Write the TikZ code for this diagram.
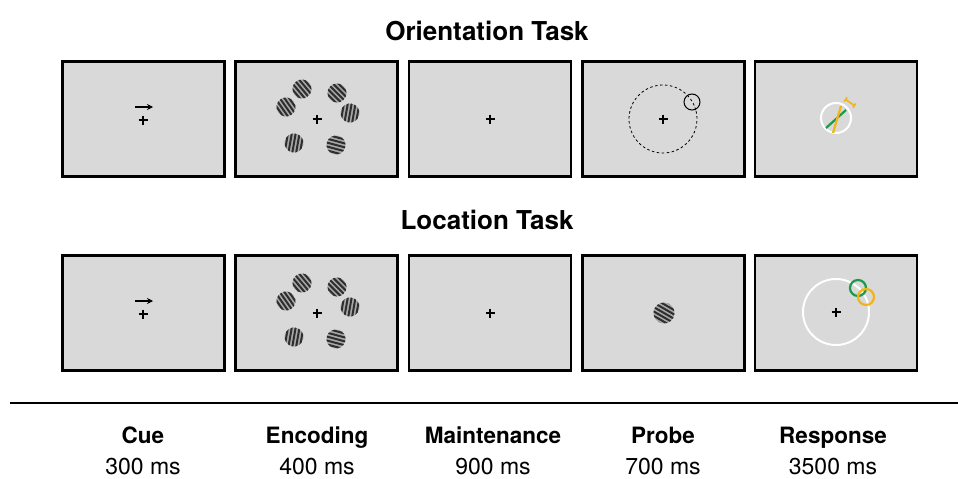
\documentclass[tikz,border=0pt]{standalone}
\usepackage{fontspec}
\setmainfont{TeX Gyre Heros}
\usetikzlibrary{arrows.meta}
\definecolor{panelgray}{HTML}{D9D9D9}
\definecolor{rgreen}{HTML}{1A9A4A}
\definecolor{rorange}{HTML}{F2B416}
\definecolor{stripedark}{HTML}{2E2E2E}
\definecolor{stripelight}{HTML}{A8A8A8}
\tikzset{
  panel/.style={draw=black, fill=panelgray, line width=2.2pt, minimum width=162pt, minimum height=115pt, inner sep=0pt},
  title/.style={anchor=base, inner sep=0pt, font=\bfseries\fontsize{26}{30}\selectfont},
  phase/.style={anchor=base, inner sep=0pt, font=\bfseries\fontsize{22.5}{26}\selectfont},
  dur/.style={anchor=base, inner sep=0pt, font=\fontsize{23}{27}\selectfont},
  fix/.style={line width=2.1pt},
  cuearrow/.style={line width=1.9pt, -{Stealth[length=6pt,width=6pt]}},
}
\newcommand{\fixcross}[2]{\draw[fix] (#1-4.5,#2) -- (#1+4.5,#2) (#1,#2-4.5) -- (#1,#2+4.5);}
\newcommand{\mygrating}[4]{%
  \begin{scope}[shift={(#1,#2)}, rotate=#4]
    \clip (0,0) circle (#3);
    \fill[stripelight] (-#3,-#3) rectangle (#3,#3);
    \foreach \k in {-3,...,3} \fill[stripedark] (\k*3.8-1.0,-#3) rectangle (\k*3.8+1.0,#3);
  \end{scope}}
\begin{document}
\begin{tikzpicture}[x=1pt,y=-1pt]
\useasboundingbox (0,0) rectangle (958,479);
\fill[white] (0,0) rectangle (958,479);
% titles
\node[title] (t1) at (487,40) {Orientation Task};
\node[title] (t2) at (487,229) {Location Task};
% panels
\foreach \i/\cx in {1/143.5,2/316.5,3/490,4/663.5,5/836}{
  \node[panel] (a\i) at (\cx,119) {};
  \node[panel] (b\i) at (\cx,313) {};
}
% --- top row ---
\draw[cuearrow] (135,107) -- (153,107);
\fixcross{143}{120}
\fixcross{317}{119}
\mygrating{302}{89}{9.5}{40}
\mygrating{337}{93}{9.5}{45}
\mygrating{286}{107}{9.5}{35}
\mygrating{350}{113}{9.5}{-10}
\mygrating{294}{143}{9.5}{-10}
\mygrating{336}{145}{9.5}{75}
\fixcross{490}{119}
\fixcross{663}{119}
\draw[line width=0.8pt, dash pattern=on 2.5pt off 2.5pt] (663,119) ++(-15:34) arc[start angle=-15, end angle=-380, radius=34];
\draw[line width=1pt] (692,102) circle (8);
\draw[white, line width=2pt] (836,118) circle (15);
\draw[rgreen, line width=2.2pt] (826,128) -- (846,110);
\draw[rorange, line width=2.2pt] (833,133) -- (841,106);
\draw[rorange, line width=1.6pt, {Bar[width=5pt]}-{Bar[width=5pt]}] (845,99) -- (855,106);
% --- bottom row ---
\draw[cuearrow] (135,301) -- (153,301);
\fixcross{143}{314}
\fixcross{317}{313}
\mygrating{302}{283}{9.5}{40}
\mygrating{337}{287}{9.5}{45}
\mygrating{286}{301}{9.5}{35}
\mygrating{350}{307}{9.5}{-10}
\mygrating{294}{337}{9.5}{-10}
\mygrating{336}{339}{9.5}{75}
\fixcross{490}{313}
\mygrating{664}{313}{10.5}{60}
\draw[white, line width=2pt] (836,312) circle (33);
\fixcross{836}{312}
\draw[rgreen, line width=2.2pt] (858,288) circle (8);
\draw[rorange, line width=2.2pt] (866,297) circle (8);
% separator
\coordinate (l1) at (10,403);
\coordinate (l2) at (958,403);
\draw[line width=2pt] (l1) -- (l2);
% labels
\foreach \n/\x/\p/\d in {1/143/Cue/300 ms,2/317/Encoding/400 ms,3/493/Maintenance/900 ms,4/663/Probe/700 ms,5/833/Response/3500 ms}{
  \node[phase] (ph\n) at (\x,443) {\p};
  \node[dur] (du\n) at (\x,474) {\d};
}
\end{tikzpicture}
\end{document}
